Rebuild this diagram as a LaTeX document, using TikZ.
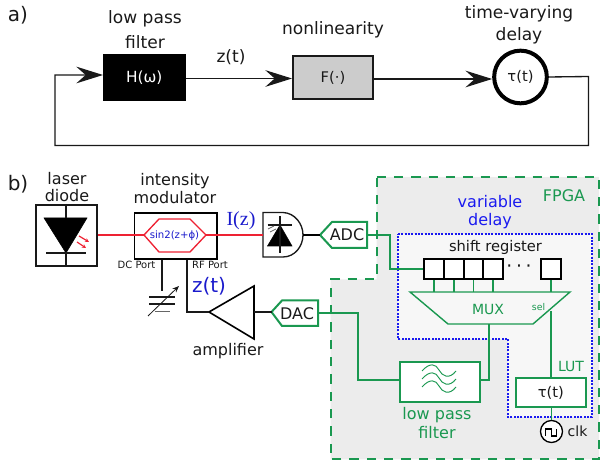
\documentclass[tikz,border=0pt]{standalone}
\usepackage{fontspec}
\setmainfont{DejaVu Sans}
\newfontfamily\serifblue{Liberation Serif}
\usetikzlibrary{arrows.meta,calc}
\definecolor{fgreen}{HTML}{1A9850}
\definecolor{fpgagray}{HTML}{ECECEC}
\definecolor{dblue}{HTML}{1A1AF0}
\definecolor{zblue}{HTML}{1A1ACC}
\definecolor{fred}{HTML}{EE2233}
\tikzset{
 x=0.75pt,y=-0.75pt,
 lbl/.style={inner sep=0pt,font=\fontsize{12}{14}\selectfont,text=black!90},
 toplbl/.style={inner sep=0pt,font=\fontsize{12.8}{15}\selectfont,text=black!90},
 glbl/.style={lbl,text=fgreen},
 blbl/.style={lbl,text=dblue},
 portlbl/.style={inner sep=0pt,font=\fontsize{7.5}{9}\selectfont,text=black!90},
 wire/.style={line width=1pt,black!90},
 gwire/.style={line width=1.05pt,fgreen},
 bigarrow/.style={wire,-{Stealth[length=20pt,width=12.5pt,inset=7pt]}},
 box/.style={draw,inner sep=0pt,anchor=north west},
 reg/.style={draw=black,fill=white,line width=1.8pt,inner sep=0pt,minimum width=14.6pt,minimum height=15pt},
}
\begin{document}
\begin{tikzpicture}
\useasboundingbox (0,0) rectangle (600,466);
% ---- a)
\node[lbl,font=\fontsize{15}{17}\selectfont] (la) at (18,15) {a)};
\node[toplbl] at (145,19) {low pass};
\node[toplbl] at (145,42) {filter};
\node[toplbl] at (231,57) {z(t)};
\node[toplbl] at (333,30) {nonlinearity};
\node[toplbl] at (519,14) {time-varying};
\node[toplbl] at (519,36) {delay};
\node[box,fill=black,draw=black,minimum width=61.5pt,minimum height=34.5pt,text=white,font=\fontsize{11.5}{13}\selectfont] (H) at (103,54) {H(ω)};
\node[box,fill=black!20,draw=black!90,line width=1.5pt,minimum width=60pt,minimum height=32pt,font=\fontsize{11}{13}\selectfont,text=black!90] (F) at (292,55.5) {F(·)};
\node[circle,draw=black,line width=3pt,minimum size=39.5pt,inner sep=0pt,font=\fontsize{11}{13}\selectfont,text=black!90] (T) at (520.5,77) {τ(t)};
\coordinate (l1) at (55,75);
\coordinate (l2) at (55,145.5);
\coordinate (l3) at (588.5,145.5);
\coordinate (l4) at (588.5,76.5);
\draw[bigarrow] (H.east |- 0,78.5) -- (F.west |- 0,78.5);
\draw[bigarrow] (F.east |- 0,79) -- (T.west |- 0,79);
\draw[bigarrow] (T.east) -- (l4) -- (l3) -- (l2) -- (l1) -- (H.west |- l1);
% ---- FPGA
\draw[fill=fpgagray,draw=none] (376.5,177) -- (599,177) -- (599,459.5) -- (330.5,459.5) -- (330.5,279.5) -- (376.5,279.5) -- cycle;
\draw[fgreen,line width=1.5pt,dash pattern=on 7pt off 6pt] (376.5,177) -- (599,177) -- (599,459.5) -- (330.5,459.5) -- (330.5,279.5) -- (376.5,279.5) -- cycle;
\draw[fill=white!97!black,draw=dblue,line width=1.5pt,dash pattern=on 1.4pt off 1.1pt] (398,234) -- (592,234) -- (592,417) -- (508,417) -- (508,339) -- (398,339) -- cycle;
% ---- b)
\node[lbl,font=\fontsize{15}{17}\selectfont] (lb) at (18,184) {b)};
\node[lbl] at (67,179) {laser};
\node[lbl] at (67,196) {diode};
\node[lbl] at (175,181) {intensity};
\node[lbl] at (175,198) {modulator};
\node[box,draw=black!90,line width=1.5pt,minimum width=45.5pt,minimum height=46pt] (LD) at (35,204) {};
\draw[fill=black,draw=black] (44,218) -- (87,218) -- (66,253) -- cycle;
\draw[black!90,line width=1.5pt] (LD.north -| 66,0) -- (66,218);
\draw[black!90,line width=1.5pt] (66,253) -- (LD.south -| 66,0);
\draw[black!90,line width=1.5pt] (46,253.5) -- (86,253.5);
\draw[fred,line width=.9pt,-{Stealth[length=3pt,width=3pt]}] (79,236) -- (89,242);
\draw[fred,line width=.9pt,-{Stealth[length=3pt,width=3pt]}] (77,242) -- (86,248);
\node[box,draw=black,line width=1.3pt,minimum width=62pt,minimum height=34.5pt] (M) at (133.5,212) {};
\coordinate (hexL) at (144,235);
\coordinate (hexR) at (206,235);
\draw[fred,line width=1pt,fill=white] (hexL) -- (159,219) -- (190,219) -- (hexR) -- (190,252) -- (159,252) -- cycle;
\node[inner sep=0pt,font=\fontsize{7.6}{9}\selectfont,text=zblue] (Mt) at (174.5,235.5) {sin2(z+ϕ)};
\draw[fred,line width=.9pt] (LD.east |- hexL) -- (hexL);
% photodiode
\coordinate (PDr) at (303,235);
\draw[black!90,line width=1pt,fill=white] (263,212.5) -- (283,212.5) .. controls (295,213) and (303,224) .. (PDr) .. controls (303,246) and (295,257) .. (283,257) -- (263,257) -- cycle;
\coordinate (PDl) at (263,235);
\draw[fred,line width=.9pt] (hexR) -- (PDl);
\draw[fill=black,draw=black] (267.5,246) -- (292,246) -- (280,225) -- cycle;
\draw[black!90,line width=1pt] (280,216) -- (280,253);
\draw[black!90,line width=1pt] (267.5,225) -- (292,225);
\draw[black!60,line width=.6pt] (268,229) -- (274,226);
\draw[black!60,line width=.6pt] (270,232) -- (276,229);
\node[inner sep=0pt,font=\fontsize{15}{17}\selectfont\serifblue,text=zblue] at (241,221) {I(z)};
% ADC
\node[lbl] (ADC) at (347,235) {ADC};
\coordinate (ADCl) at (320,235);
\coordinate (ADCr) at (367,235);
\draw[fgreen,line width=1.5pt] (ADCl) -- (332,222) -- (367,222) -- (367,248) -- (332,248) -- cycle;
\draw[black,line width=1.5pt] (PDr) -- (ADCl);
% ports
\node[portlbl] at (136.5,265) {DC Port};
\node[portlbl] at (210,265) {RF Port};
\coordinate (dc) at (162,291);
\draw[wire] (M.south -| dc) -- (dc);
\draw[black!90,line width=1pt] (149,297) -- (175,297);
\draw[black!90,line width=1pt] (149,304) -- (175,304);
\draw[black!60,line width=1.2pt] (155,311.5) -- (170,311.5);
\draw[black!90,line width=.6pt,-{Stealth[length=5pt,width=4pt]}] (148,316) -- (179,286);
\node[inner sep=0pt,font=\fontsize{15}{17}\selectfont,text=zblue] at (209,286) {z(t)};
% amplifier
\coordinate (AMPt) at (209,312);
\coordinate (AMPr) at (254,312);
\draw[black,line width=1.2pt,fill=white] (AMPt) -- (254,286) -- (254,339) -- cycle;
\draw[wire] (M.south -| 187,0) -- (187,312) -- (AMPt);
\node[lbl] at (228,351) {amplifier};
% DAC
\node[lbl] (DAC) at (297,314) {DAC};
\coordinate (DACl) at (271.5,312);
\coordinate (DACr) at (318,313);
\draw[fgreen,line width=1.5pt] (DACl) -- (282,300.5) -- (318,300.5) -- (318,326) -- (282,326) -- cycle;
\draw[wire] (AMPr) -- (DACl);
% FPGA text
\node[glbl] at (564,196) {FPGA};
\node[blbl] at (490,202) {variable};
\node[blbl] at (490,221) {delay};
\node[lbl,font=\fontsize{11}{13}\selectfont] at (495.5,247) {shift register};
% registers
\node[reg] (r1) at (434,269) {};
\node[reg] (r2) at (454,269) {};
\node[reg] (r3) at (473.5,269) {};
\node[reg] (r4) at (493,269) {};
\node[reg] (r5) at (551,269) {};
\node[inner sep=0pt,font=\fontsize{14}{16}\selectfont,text=black!90] at (519,269) {·\hspace{.2em}·\hspace{.2em}·};
% MUX
\coordinate (mt) at (490,292);
\coordinate (mb) at (489,324);
\draw[gwire,fill=white!97!black] (410,292) -- (570,292) -- (533,324) -- (448,324) -- cycle;
\node[glbl,font=\fontsize{10.5}{12}\selectfont] at (488,309) {MUX};
\node[inner sep=0pt,font=\fontsize{7}{8}\selectfont,text=fgreen] at (538.5,307.5) {sel};
\foreach \r in {r1,r2,r3,r4,r5}{\draw[gwire] (\r.south) -- (\r.south |- mt);}
\draw[gwire] (ADCr) -- (390,235) -- (390,269) -- (r1.west);
% LPF
\node[box,draw=fgreen,line width=1.7pt,fill=white,minimum width=60pt,minimum height=30pt] (LPF) at (398.5,361) {};
\foreach \dy in {-8,0,8}{
 \draw[fgreen,line width=.7pt] (422,380+\dy-1) .. controls (430,380+\dy-10) and (436,380+\dy-8) .. (439,380+\dy-2) .. controls (442,380+\dy+4) and (449,380+\dy+8) .. (456,380+\dy-1);
}
\node[glbl] at (437,415) {low pass};
\node[glbl] at (437,433) {filter};
\draw[gwire] (DACr) -- (358,313) -- (358,380) -- (LPF.west |- 0,380);
\draw[gwire] (LPF.east |- 0,380) -- (489,380) -- (mb);
% LUT
\node[glbl,font=\fontsize{10.5}{12}\selectfont] at (571,366) {LUT};
\node[box,draw=fgreen,line width=1.2pt,fill=white,minimum width=52.5pt,minimum height=22pt,font=\fontsize{11}{13}\selectfont,text=black!90] (LUT) at (515,377) {τ(t)};
\draw[gwire] (r5.south |- 0,311) -- (LUT.north -| r5.south);
% clk
\node[circle,draw=black,line width=1pt,fill=white,minimum size=16.5pt,inner sep=0pt] (clk) at (551.5,431.5) {};
\draw[black,line width=.8pt] (545.5,436) -- (545.5,429) -- (551.5,429) -- (551.5,436) -- (556.5,436) -- (556.5,429);
\draw[gwire] (LUT.south -| clk) -- (clk.north);
\node[lbl,font=\fontsize{10.5}{13}\selectfont] at (577.5,431) {clk};
\end{tikzpicture}
\end{document}
